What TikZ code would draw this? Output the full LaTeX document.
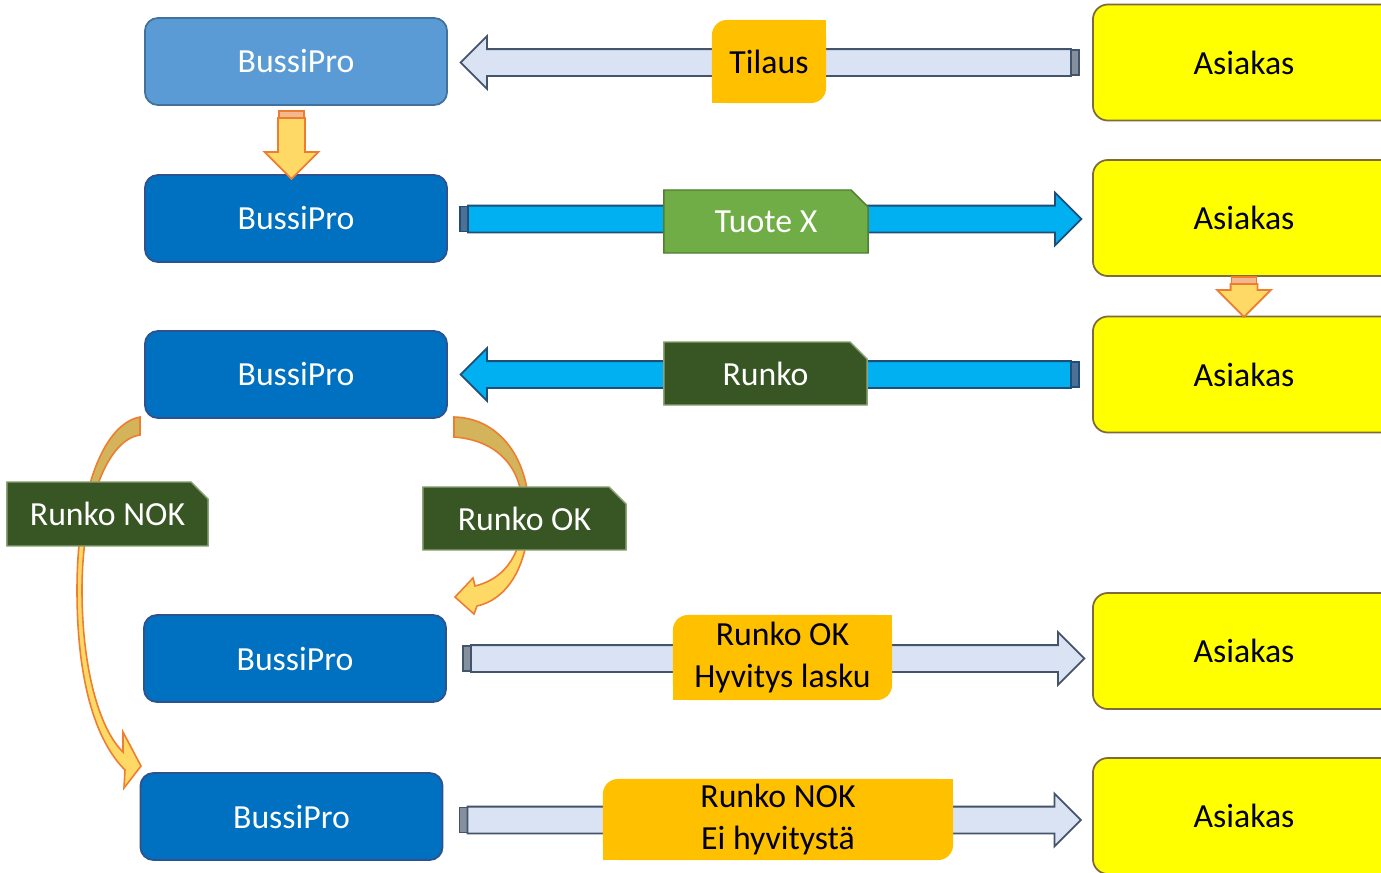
\documentclass[tikz,border=0pt]{standalone}
\usepackage{fontspec}
\setmainfont{Carlito}
\usetikzlibrary{shapes.arrows,shapes.misc,positioning,calc}

\definecolor{boxblue}{HTML}{0070C0}
\definecolor{boxline}{HTML}{2F528F}
\definecolor{paleblue}{HTML}{5B9BD5}
\definecolor{paleline}{HTML}{41719C}
\definecolor{custyellow}{HTML}{FFFF00}
\definecolor{custline}{HTML}{7F6A3C}
\definecolor{tagorange}{HTML}{FFC000}
\definecolor{taggreen}{HTML}{70AD47}
\definecolor{greenline}{HTML}{507E32}
\definecolor{tagdark}{HTML}{375623}
\definecolor{darkline}{HTML}{8EA47A}
\definecolor{shaftpale}{HTML}{DAE3F3}
\definecolor{shaftcyan}{HTML}{00B0F0}
\definecolor{slate}{HTML}{44546A}
\definecolor{navy}{HTML}{1F4E79}
\definecolor{gold}{HTML}{FFD966}
\definecolor{darkgold}{HTML}{D4B45B}
\definecolor{rust}{HTML}{ED7D31}

\newcommand\labelfont{\fontsize{9.6}{11.7}\selectfont}

% curved arrows out of the third BussiPro
\newcommand\nokarc{(140,417) .. controls (100,425) and (77,500) .. (77,590)
  .. controls (77,680) and (95,740) .. (125,770) -- (124,788) -- (141,766)
  -- (123,732) -- (123,752) .. controls (100,730) and (82,670) .. (82,590)
  .. controls (82,510) and (105,440) .. (140,435) -- cycle}
\newcommand\okarc{(454,417) .. controls (500,418) and (530,460) .. (529,515)
  .. controls (528,570) and (505,600) .. (477,606) -- (474,614) -- (455,597)
  -- (473,578) -- (475,586) .. controls (500,580) and (522,560) .. (523,515)
  .. controls (524,465) and (495,440) .. (454,437) -- cycle}

\begin{document}
\begin{tikzpicture}[x=0.01cm, y=-0.01cm, font=\labelfont,
    bussi/.style={rectangle, rounded corners=0.13cm, fill=boxblue, draw=boxline,
        line width=0.5pt, minimum width=3.02cm, minimum height=0.87cm, text=white},
    asiakas/.style={rectangle, rounded corners=0.15cm, fill=custyellow, draw=custline,
        line width=0.5pt, minimum width=3.02cm, minimum height=1.16cm},
    ordertag/.style={rectangle, rounded corners=0.15cm, fill=tagorange, align=center,
        inner sep=0pt, outer sep=0pt},
    snip/.style={chamfered rectangle, chamfered rectangle corners=north east,
        chamfered rectangle xsep=0.09cm, chamfered rectangle ysep=0.08cm,
        text=white, line width=0.4pt, inner sep=0pt},
    paleflow/.style={single arrow, fill=shaftpale, draw=slate, line width=0.5pt,
        minimum height=6.13cm, inner xsep=0pt, inner ysep=0.125cm,
        single arrow head extend=0.13cm, outer sep=0pt},
    cyanflow/.style={paleflow, fill=shaftcyan, draw=navy},
    palebar/.style={rectangle, fill=slate!65, draw=slate, line width=0.5pt,
        minimum width=0.08cm, minimum height=0.25cm, inner sep=0pt, outer sep=0pt},
    cyanbar/.style={palebar, fill=navy!80, draw=navy},
    goldflow/.style={single arrow, fill=gold, draw=rust, line width=0.5pt,
        inner xsep=0pt, inner ysep=0.125cm, single arrow head extend=0.135cm,
        outer sep=0pt},
    goldbar/.style={rectangle, fill=rust!55, draw=rust, line width=0.5pt,
        minimum width=0.25cm, minimum height=0.07cm, inner sep=0pt, outer sep=0pt}]

\path[use as bounding box] (0,0) rectangle (1381,872);
\clip (0,0) rectangle (1381,872);
\fill[white] (0,0) rectangle (1381,872);

% BussiPro column
\node[bussi, fill=paleblue, draw=paleline] (bp1) at (296,61.5) {BussiPro};
\node[bussi] (bp2) at (296,218.5) {BussiPro};
\node[bussi] (bp3) at (296,374.5) {BussiPro};
\node[bussi] (bp4) at (295,658.5) {BussiPro};
\node[bussi] (bp5) at (291.5,816.5) {BussiPro};

% Asiakas column
\node[asiakas] (as1) at (1244,62.5) {Asiakas};
\node[asiakas] (as2) at (1244,218) {Asiakas};
\node[asiakas] (as3) at (1244,374.5) {Asiakas};
\node[asiakas] (as4) at (1244,651) {Asiakas};
\node[asiakas] (as5) at (1244,816) {Asiakas};

% flows between the columns
\node[palebar, left=0.13cm of as1] (b1) {};
\node[paleflow, rotate=180, anchor=tail, minimum height=6.1cm] (a1) at (b1.west) {};
\node[cyanbar, right=0.12cm of bp2, yshift=-0.005cm] (b2) {};
\node[cyanflow, anchor=tail] (a2) at (b2.east) {};
\node[cyanbar, left=0.13cm of as3] (b3) {};
\node[cyanflow, rotate=180, anchor=tail, minimum height=6.1cm] (a3) at (b3.west) {};
\node[palebar, right=0.16cm of bp4] (b4) {};
\node[paleflow, anchor=tail] (a4) at (b4.east) {};
\node[palebar, right=0.16cm of bp5, yshift=-0.035cm] (b5) {};
\node[paleflow, anchor=tail] (a5) at (b5.east) {};

% down arrows
\node[goldbar, below=0.05cm of bp1, xshift=-0.045cm] (s1) {};
\node[goldflow, rotate=-90, anchor=tail, minimum height=0.61cm] (d1) at (s1.south) {};
\node[goldbar, below=0pt of as2] (s2) {};
\node[goldflow, rotate=-90, anchor=tail, minimum height=0.33cm] (d2) at (s2.south) {};

% curved arrows
\fill[gold] \nokarc;
\fill[gold] \okarc;
\begin{scope}
  \clip (0,400) rectangle (600,518);
  \fill[darkgold] \nokarc;
  \fill[darkgold] \okarc;
\end{scope}
\draw[rust, line width=0.45pt] \nokarc;
\draw[rust, line width=0.45pt] \okarc;

% labels on the flows
\node[ordertag, minimum width=1.14cm, minimum height=0.83cm] (tilaus) at (769,61.5) {Tilaus};
\fill[tagorange] (tilaus.north east) rectangle ++(-20,20);
\fill[tagorange] (tilaus.south west) rectangle ++(20,-20);
\node[snip, fill=taggreen, draw=greenline, minimum width=2.04cm, minimum height=0.63cm]
    (tuote) at (766,221.5) {Tuote X};
\node[snip, fill=tagdark, draw=darkline, minimum width=2.03cm, minimum height=0.63cm]
    (runko) at (765.5,373.5) {Runko};
\node[snip, fill=tagdark, draw=darkline, minimum width=2.01cm, minimum height=0.64cm]
    (nok) at (107.5,514) {Runko NOK};
\node[snip, fill=tagdark, draw=darkline, minimum width=2.03cm, minimum height=0.63cm]
    (ok) at (524.5,518.5) {Runko OK};
\node[ordertag, minimum width=2.19cm, minimum height=0.85cm] (hyv) at (782.5,657.5)
    {Runko OK\\Hyvitys lasku};
\fill[tagorange] (hyv.north east) rectangle ++(-20,20);
\fill[tagorange] (hyv.south west) rectangle ++(20,-20);
\node[ordertag, minimum width=3.5cm, minimum height=0.81cm] (eihyv) at (778,819.5)
    {Runko NOK\\Ei hyvitystä};
\fill[tagorange] (eihyv.north east) rectangle ++(-20,20);
\fill[tagorange] (eihyv.south west) rectangle ++(20,-20);

\end{tikzpicture}
\end{document}
